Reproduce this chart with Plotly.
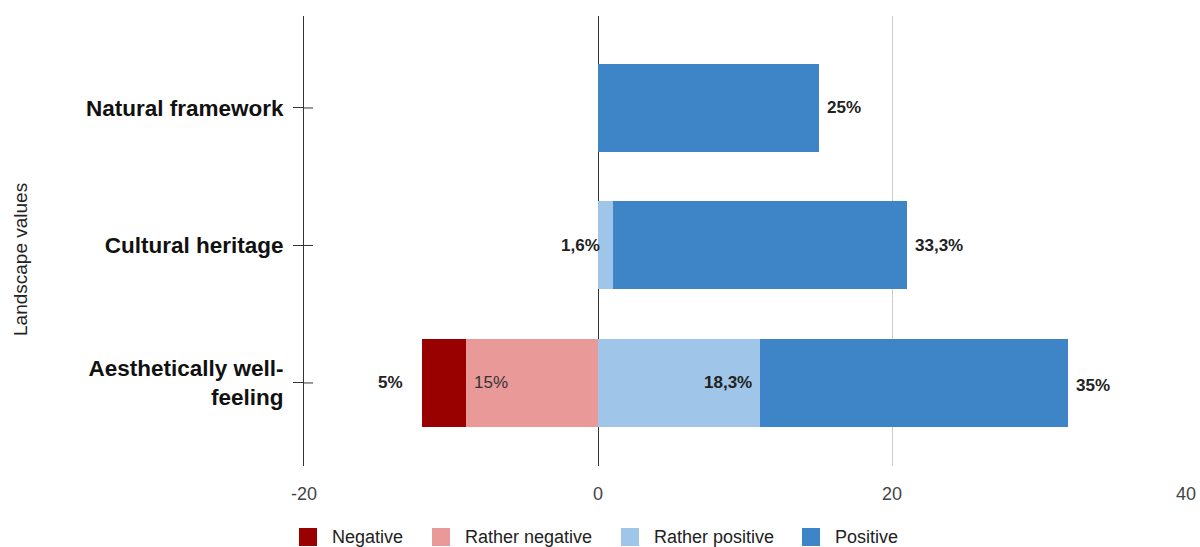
import plotly.graph_objects as go

categories = ["Natural framework", "Cultural heritage", "Aesthetically well-<br>feeling"]
series_names = ["Negative", "Rather negative", "Rather positive", "Positive"]
negative = [0, 0, 3]
rather_negative = [0, 0, 9]
rather_positive = [0, 1, 11]
positive = [15, 20, 21]

negative_labels = ["", "", "5%"]
rather_negative_labels = ["", "", "15%"]
rather_positive_labels = ["", "1,6%", "18,3%"]
positive_labels = ["25%", "33,3%", "35%"]

x_ticks = [-20, 0, 20, 40]

colors = {
    "Negative": "#990000",
    "Rather negative": "#ea9999",
    "Rather positive": "#9fc5e8",
    "Positive": "#3d85c6",
}

ypos = list(range(len(categories)))
FONT = "Liberation Sans, Arial, sans-serif"

W, H = 1200, 547
ML, MR, MT, MB = 304, 14, 16, 81
PW, PH = W - ML - MR, H - MT - MB


def px_x(p):
    return (p - ML) / PW


def px_y(p):
    return (H - MB - p) / PH


fig = go.Figure()
common = dict(orientation="h", width=0.64, showlegend=False, hoverinfo="x+name")
# negative side: nearest to zero first
fig.add_trace(go.Bar(y=ypos, x=[-v for v in rather_negative], name="Rather negative",
                     marker=dict(color=colors["Rather negative"], line=dict(width=0)), **common))
fig.add_trace(go.Bar(y=ypos, x=[-v for v in negative], name="Negative",
                     marker=dict(color=colors["Negative"], line=dict(width=0)), **common))
fig.add_trace(go.Bar(y=ypos, x=rather_positive, name="Rather positive",
                     marker=dict(color=colors["Rather positive"], line=dict(width=0)), **common))
fig.add_trace(go.Bar(y=ypos, x=positive, name="Positive",
                     marker=dict(color=colors["Positive"], line=dict(width=0)), **common))

annotations = []
lab_font_b = dict(family=FONT, size=17, color="#222222", weight="bold")
lab_font_n = dict(family=FONT, size=17, color="#333333")
for i in ypos:
    neg_end = -(negative[i] + rather_negative[i])
    rn_end = -rather_negative[i]
    rp_end = rather_positive[i]
    pos_end = rather_positive[i] + positive[i]
    if negative_labels[i]:
        annotations.append(dict(x=neg_end, y=i, text=negative_labels[i], showarrow=False,
                                xanchor="right", xshift=-17, font=lab_font_b))
    if rather_negative_labels[i]:
        annotations.append(dict(x=rn_end, y=i, text=rather_negative_labels[i], showarrow=False,
                                xanchor="left", xshift=6, font=lab_font_n))
    if rather_positive_labels[i]:
        if rather_positive[i] < 3:
            annotations.append(dict(x=0, y=i, text=rather_positive_labels[i], showarrow=False,
                                    xanchor="right", xshift=4, font=lab_font_b))
        else:
            annotations.append(dict(x=rp_end, y=i, text=rather_positive_labels[i], showarrow=False,
                                    xanchor="right", xshift=-6, font=lab_font_b))
    if positive_labels[i]:
        annotations.append(dict(x=pos_end, y=i, text=positive_labels[i], showarrow=False,
                                xanchor="left", xshift=6, yshift=-3 if i == 2 else 0, font=lab_font_b))

annotations.append(dict(xref="paper", yref="paper", x=px_x(20), y=px_y(260), xanchor="center", yanchor="middle",
                        text="Landscape values", textangle=-90, showarrow=False,
                        font=dict(family=FONT, size=19, color="#222222")))

shapes = []
for i in ypos:
    shapes.append(dict(type="line", xref="x", yref="y", xsizemode="pixel", xanchor=-20,
                       x0=0, x1=9, y0=i, y1=i, line=dict(color="#333333", width=1)))

# manual legend (square swatches + labels)
legend_left_px = [299, 432, 621, 802]
legend_mid_px = 537
for name, lx in zip(series_names, legend_left_px):
    shapes.append(dict(type="rect", xref="paper", yref="paper",
                       x0=px_x(lx), x1=px_x(lx + 18), y0=px_y(legend_mid_px - 9), y1=px_y(legend_mid_px + 9),
                       fillcolor=colors[name], line=dict(width=0), layer="above"))
    annotations.append(dict(xref="paper", yref="paper", x=px_x(lx + 31), y=px_y(legend_mid_px),
                            xanchor="left", yanchor="middle", text=name, showarrow=False,
                            font=dict(family=FONT, size=18, color="#222222")))

fig.update_layout(
    barmode="relative",
    width=W, height=H,
    margin=dict(l=ML, r=MR, t=MT, b=MB),
    plot_bgcolor="white", paper_bgcolor="white",
    font=dict(family=FONT, size=18, color="#222222"),
    showlegend=False,
    xaxis=dict(range=[-20, 40], tickvals=x_ticks, ticktext=[str(v) for v in x_ticks],
               showgrid=True, gridcolor="#cccccc", gridwidth=1,
               zeroline=True, zerolinecolor="#333333", zerolinewidth=1,
               showline=False, ticks="", ticklabelstandoff=15, automargin=False,
               tickfont=dict(family=FONT, size=18, color="#444444")),
    yaxis=dict(range=[2.604, -0.669], tickvals=ypos, ticktext=categories,
               showgrid=False, zeroline=False, automargin=False,
               showline=True, linecolor="#333333", linewidth=1,
               ticks="outside", ticklen=10, tickcolor="#333333", tickwidth=1,
               ticklabelstandoff=5,
               tickfont=dict(family=FONT, size=22.5, color="#111111", weight="bold")),
    annotations=annotations,
    shapes=shapes,
    bargap=0,
)

fig.write_html("out.html")
